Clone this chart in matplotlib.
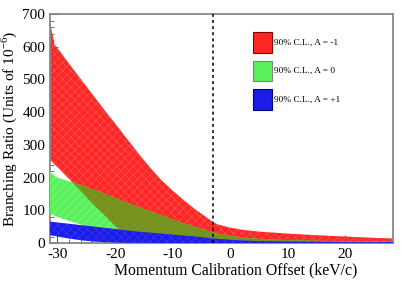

# Branching ratio 90% C.L. bands vs momentum calibration offset
import numpy as np
import matplotlib
matplotlib.use("Agg")
import matplotlib.pyplot as plt
from matplotlib.patches import Rectangle
from matplotlib.ticker import MultipleLocator

plt.rcParams["font.family"] = ["Liberation Serif", "DejaVu Serif"]
plt.rcParams["mathtext.fontset"] = "custom"
plt.rcParams["mathtext.rm"] = "Liberation Serif"
plt.rcParams["hatch.linewidth"] = 0.4

# ---------- data ----------
offset = [-31.3, -30.5, -30, -28, -26, -24, -22, -20, -18, -16, -14, -12, -10,
          -8, -6, -4, -3, -2, 0, 2, 5, 10, 15, 20, 25, 28.3]

red_hi = [675, 605, 595, 548, 502, 456, 410, 365, 320, 275, 232, 193, 160,
          130, 102, 77, 64, 56, 47, 41, 35, 29, 24, 20, 16, 14]
red_lo = [255, 240, 232, 196, 160, 122, 88, 52, 25, 10, 5, 3, 2,
          2, 1, 1, 1, 1, 1, 1, 1, 0, 0, 0, 0, 0]

green_hi = [218, 205, 200, 189, 178, 165, 152, 138, 124, 110, 98, 85, 72,
            60, 49, 38, 33, 29, 22, 17, 13, 9, 7, 6, 5, 5]
green_lo = [88, 84, 80, 68, 57, 45, 35, 25, 17, 10, 6, 4, 3,
            2, 2, 1, 1, 1, 1, 1, 1, 0, 0, 0, 0, 0]

blue_hi = [66, 64, 63, 59, 55, 51, 47, 43, 39, 35, 32, 29, 26,
           23, 20, 16, 14, 13, 10, 8, 6, 5, 4, 3, 3, 3]
blue_lo = [24, 22, 20, 14, 9, 5, 3, 2, 1, 1, 1, 0, 0,
           0, 0, 0, 0, 0, 0, 0, 0, 0, 0, 0, 0, 0]

cut_offset = -3
labels = ["90% C.L., A = -1", "90% C.L., A = 0", "90% C.L., A = +1"]

RED, GREEN, BLUE, OLIVE = "#ff2626", "#5cf05c", "#1c1ce6", "#6f951c"

# ---------- plot ----------
fig = plt.figure(figsize=(4.15, 2.85), dpi=100)
ax = fig.add_axes([0.1205, 0.147, 0.827, 0.804])

x = np.array(offset)
ax.fill_between(x, red_lo, red_hi, facecolor=RED, edgecolor="#ff5a5a",
                hatch="xxxx", linewidth=0, zorder=2)
ax.fill_between(x, green_lo, green_hi, facecolor=GREEN, edgecolor="#90ff90",
                hatch="////", linewidth=0, zorder=3)
# overlap of red and green looks olive in the original
ov_lo = np.maximum(red_lo, green_lo)
ov_hi = np.minimum(red_hi, green_hi)
ax.fill_between(x, ov_lo, ov_hi, where=ov_hi > ov_lo, interpolate=True,
                facecolor=OLIVE, edgecolor="#9a8a2a", hatch="xxxx",
                linewidth=0, zorder=4)
ax.fill_between(x, blue_lo, blue_hi, facecolor=BLUE, edgecolor="#3c3cff",
                hatch="xxxx", linewidth=0, zorder=5)

ax.axvline(cut_offset, color="black", linestyle=(0, (2, 2)), linewidth=1.1, zorder=6)

ax.set_xlim(-31.3, 28.3)
ax.set_ylim(0, 700)
ax.xaxis.set_major_locator(MultipleLocator(10))
ax.xaxis.set_minor_locator(MultipleLocator(2))
ax.yaxis.set_major_locator(MultipleLocator(100))
ax.yaxis.set_minor_locator(MultipleLocator(20))
ax.tick_params(which="both", direction="in", top=False, right=False,
               labelsize=11, color="#606060")
ax.tick_params(which="major", length=6)
ax.tick_params(which="minor", length=3)
for sp in ax.spines.values():
    sp.set_color("#888888")
    sp.set_linewidth(1.3)
ax.xaxis.set_major_formatter(matplotlib.ticker.FuncFormatter(lambda v, p: f"{v:g}"))

ax.set_xlabel("Momentum Calibration Offset (keV/c)", fontsize=11.3)
ax.xaxis.set_label_coords(0.542, -0.085)
ax.set_ylabel("Branching Ratio (Units of 10$^{-6}$)", fontsize=11, labelpad=2)

# legend drawn by hand, ROOT-style
for i, (lab, fc, ec) in enumerate(zip(labels, [RED, GREEN, BLUE],
                                      ["#800000", "#808080", "#000080"])):
    yb = 0.831 - i * 0.124
    ax.add_patch(Rectangle((0.591, yb), 0.055, 0.089, transform=ax.transAxes,
                           facecolor=fc, edgecolor=ec, linewidth=0.8, zorder=7))
    ax.text(0.653, yb + 0.044, lab, transform=ax.transAxes, fontsize=6.7,
            va="center", ha="left", zorder=7)

fig.savefig("out.png", dpi=100)
